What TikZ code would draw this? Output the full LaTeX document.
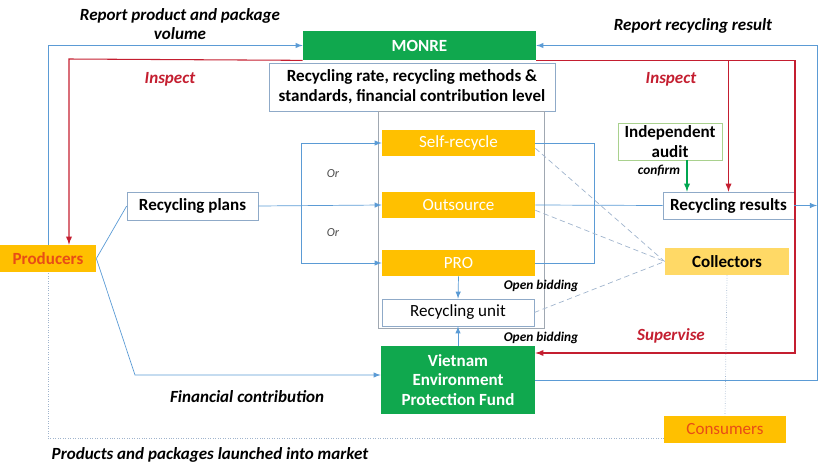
\documentclass[tikz,border=0pt]{standalone}
\usepackage{fontspec}
\setmainfont{Carlito}
\usepackage{tikz}
\usetikzlibrary{arrows}

\definecolor{fundgreen}{RGB}{16,168,78}
\definecolor{amber}{RGB}{255,192,0}
\definecolor{paleamber}{RGB}{255,217,102}
\definecolor{redtext}{RGB}{232,76,22}
\definecolor{inspred}{RGB}{196,30,48}
\definecolor{flowblue}{RGB}{91,155,213}
\definecolor{boxline}{RGB}{143,170,200}
\definecolor{frameline}{RGB}{160,168,178}
\definecolor{auditline}{RGB}{169,209,142}
\definecolor{confgreen}{RGB}{0,166,80}
\definecolor{dotline}{RGB}{160,180,205}

\begin{document}
\begin{tikzpicture}[x=0.02cm,y=-0.02cm,>=latex]
	\tikzstyle{every node}=[font=\fontsize{9.7}{11.2}\selectfont\bfseries]
	\tikzstyle{greenbox}=[fill=fundgreen, text=white, inner sep=0pt, align=center]
	\tikzstyle{amberbox}=[fill=amber, text=white, inner sep=0pt, font=\fontsize{9.7}{11}\selectfont]
	\tikzstyle{whitebox}=[draw=boxline, thin, fill=white, inner sep=0pt, align=center]
	\tikzstyle{note}=[font=\fontsize{9.7}{11}\selectfont\bfseries\itshape, align=center]
	\tikzstyle{small}=[font=\fontsize{7.6}{9}\selectfont\bfseries\itshape]
	\tikzstyle{flow}=[flowblue, thin]
	\tikzstyle{insp}=[inspred, semithick]
	\tikzstyle{dots}=[dotline, thin, densely dashed]
	\tikzstyle{mkt}=[dotline, thin, densely dotted]

	\useasboundingbox (0,0) rectangle (821,463);

	% top: ministry and its rules
	\node[greenbox, minimum width=4.66cm, minimum height=0.58cm] (monre) at (419.5,45.5) {MONRE};
	\node[whitebox, minimum width=5.72cm, minimum height=0.96cm] (rates) at (412,87) {Recycling rate, recycling methods \&\\standards, financial contribution level};

	% the three ways of recycling
	\node[draw=frameline, thin, minimum width=3.32cm, minimum height=4.34cm] (frame) at (461,219.5) {};
	\node[amberbox, minimum width=3.06cm, minimum height=0.52cm] (self) at (458.5,143) {Self-recycle};
	\node[amberbox, minimum width=3.06cm, minimum height=0.52cm] (outs) at (458.5,205) {Outsource};
	\node[amberbox, minimum width=3.06cm, minimum height=0.52cm] (pro) at (458.5,263) {PRO};
	\node[whitebox, minimum width=3.04cm, minimum height=0.54cm, font=\fontsize{9.7}{11}\selectfont] (unit) at (458,312.5) {Recycling unit};
	\node[greenbox, minimum width=3.08cm, minimum height=1.36cm] (vepf) at (458,380) {Vietnam\\Environment\\Protection Fund};

	\node[amberbox, text=redtext, font=\fontsize{9.7}{11}\selectfont\bfseries, minimum width=1.92cm, minimum height=0.54cm] (producers) at (48,258.5) {Producers};
	\node[whitebox, minimum width=2.62cm, minimum height=0.56cm] (plans) at (192.5,206) {Recycling plans};

	\node[whitebox, draw=auditline, minimum width=2.08cm, minimum height=0.74cm] (audit) at (670,141.5) {Independent\\audit};
	\node[whitebox, minimum width=2.62cm, minimum height=0.54cm] (results) at (728.5,205.5) {Recycling results};
	\node[fill=paleamber, inner sep=0pt, minimum width=2.48cm, minimum height=0.54cm] (collectors) at (727,261.5) {Collectors};
	\node[amberbox, text=redtext, minimum width=2.44cm, minimum height=0.54cm] (consumers) at (725,429.5) {Consumers};

	\coordinate (inspL) at (69,59);
	\coordinate (inspR) at (795,353);
	\coordinate (repR) at (817,45.5);
	\coordinate (finL) at (135,375);
	\coordinate (orX) at (301,206);
	\coordinate (brX) at (594,263);
	\coordinate (cf) at (687,0);
	\coordinate (mktL) at (48,438);

	% reporting and inspection
	\draw[flow,->] (producers.north) |- (monre.west);
	\draw[insp,->] (monre.south west) -- (inspL) -- (inspL |- producers.north);
	\draw[insp,->] (monre.south east) -| (inspR) -- (inspR -| vepf.east);
	\draw[insp,->] (results.north |- monre.south) -- (results.north);
	\draw[flow,->] (vepf.east) -| (repR) -- (monre.east);
	\draw[flow,->] (results.east) -- (results.east -| repR);

	% plans and money
	\draw[flow] (producers.east) -- (plans.west);
	\draw[flow,->] (producers.east) -- (finL) -- (finL -| vepf.west);
	\draw[flow,->] (plans.east) -- (outs.west);
	\draw[flow,->] (orX) |- (self.west);
	\draw[flow,->] (orX) |- (pro.west);
	\draw[flow] (self.east) -| (brX) -- (pro.east);
	\draw[flow] (outs.east) -- (results.west);
	\draw[flow,->] (pro.south) -- (unit.north);
	\draw[flow,->] (vepf.north) -- (unit.south);
	\draw[confgreen, semithick, ->] (audit.south -| cf) -- (results.north -| cf);

	% collection
	\draw[dots] ([yshift=-3pt]self.east) -- (collectors.west);
	\draw[dots] ([yshift=-3pt]outs.east) -- (collectors.west);
	\draw[dots] (unit.east) -- (collectors.west);
	\draw[mkt] (collectors.south) -- (consumers.north);
	\draw[mkt] (consumers.west |- mktL) -- (mktL) -- (producers.south);

	% labels
	\node[note] at (180,24) {Report product and package\\volume};
	\node[note] at (693,26) {Report recycling result};
	\node[note, text=inspred] at (170,79) {Inspect};
	\node[note, text=inspred] at (671,79) {Inspect};
	\node[font=\fontsize{7}{8}\selectfont\itshape, text=black!70] at (333,174) {Or};
	\node[font=\fontsize{7}{8}\selectfont\itshape, text=black!70] at (333,233) {Or};
	\node[small] at (659,171) {confirm};
	\node[small] at (541,286) {Open bidding};
	\node[small] at (541,338) {Open bidding};
	\node[note, text=inspred] at (671,336) {Supervise};
	\node[note] at (247,397) {Financial contribution};
	\node[note] at (210,455) {Products and packages launched into market};
\end{tikzpicture}
\end{document}
